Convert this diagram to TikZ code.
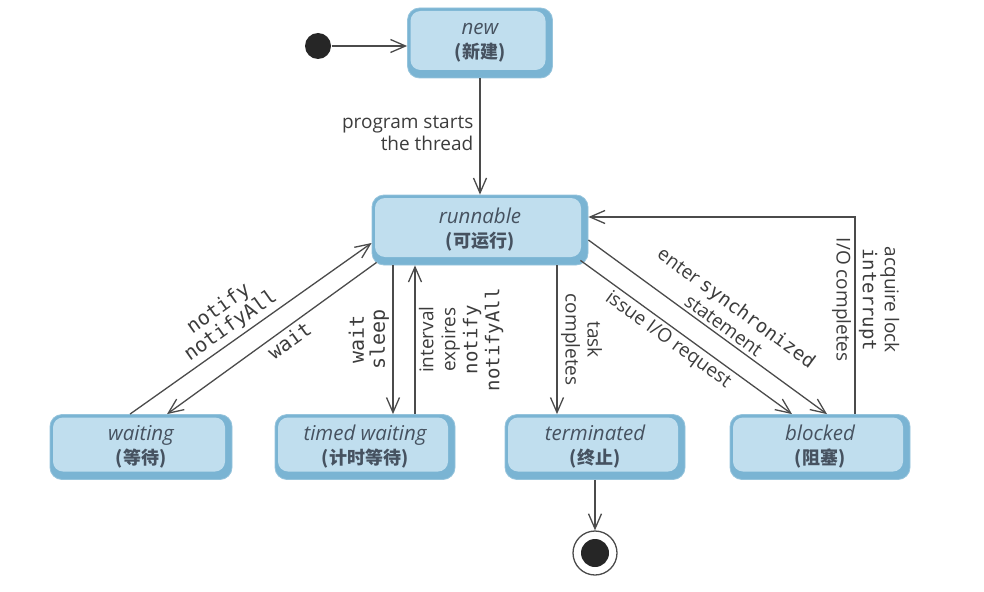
\documentclass[tikz,border=0pt]{standalone}
\usepackage{fontspec}
\setmainfont{Open Sans}
\setmonofont{DejaVu Sans Mono}
\newfontfamily\cjk{Noto Sans CJK SC}
\usetikzlibrary{arrows.meta,positioning}

\definecolor{boxdark}{RGB}{122,180,211}
\definecolor{boxlight}{RGB}{192,222,238}
\definecolor{boxline}{RGB}{150,196,220}
\definecolor{statetext}{RGB}{70,82,96}
\definecolor{labelgray}{RGB}{60,60,60}
\definecolor{linegray}{RGB}{75,75,75}

\newcommand{\statename}[2]{{\itshape #1}\\{\cjk\bfseries\fontsize{18}{21}\selectfont (#2)}}
\newcommand{\code}[1]{{\ttfamily #1}}

\begin{document}
\begin{tikzpicture}[->,>={Straight Barb[length=15pt,width=13pt]}, x=1pt, y=-1pt, line width=1.3pt, draw=linegray, auto]

    \tikzstyle{thread state}=[->, draw=boxline, line width=0.8pt, fill=boxdark, rounded corners=12pt,
      text=statetext, align=center, font=\fontsize{20.5}{24}\selectfont,
      minimum width=180pt, minimum height=65pt,
      path picture={\fill[boxlight, rounded corners=10pt]
        ([shift={(3pt,-3pt)}]path picture bounding box.north west) rectangle
        ([shift={(-7pt,8pt)}]path picture bounding box.south east);}]
    \tikzstyle{edgetext}=[text=labelgray, align=center, font=\fontsize{19}{22}\selectfont]
    \tikzstyle{codetext}=[text=labelgray, align=center, font=\ttfamily\fontsize{20}{21}\selectfont]

    \useasboundingbox (0,0) rectangle (984,591);

    \node[circle, fill=black!85, minimum size=26pt, inner sep=0pt] (start) at (318,46) {};
    \node[thread state, minimum width=145pt, minimum height=70pt] (new)      at (480,43)  {\statename{new}{新建}};
    \node[thread state, minimum width=216pt, minimum height=70pt] (runnable) at (480,230) {\statename{runnable}{可运行}};
    \node[thread state, minimum width=182pt] (waiting)    at (141,447) {\statename{waiting}{等待}};
    \node[thread state]                      (timed)      at (365,447) {\statename{timed waiting}{计时等待}};
    \node[thread state]                      (terminated) at (595,447) {\statename{terminated}{终止}};
    \node[thread state]                      (blocked)    at (820,447) {\statename{blocked}{阻塞}};
    \node[circle, draw=linegray, line width=1.3pt, minimum size=44pt, inner sep=0pt,
          path picture={\fill[black!85] (path picture bounding box.center) circle (14pt);}] (final) at (595,553) {};

    \path (start) edge (new.west |- start)
          (new) edge node[edgetext, align=right, swap, pos=0.47, inner sep=6pt] {program starts\\the thread} (runnable)
          ([xshift=-11pt]waiting.north) edge node[codetext, sloped, above, pos=0.45] {notify\\notifyAll} ([yshift=-13pt]runnable.west)
          ([xshift=5pt,yshift=3pt]runnable.south west) edge node[codetext, sloped, below, pos=0.45] {wait} ([xshift=26pt]waiting.north)
          ([xshift=-87pt]runnable.south) edge node[codetext, rotate=90, anchor=south, midway] {wait\\sleep} ([xshift=28pt]timed.north)
          ([xshift=50pt]timed.north) edge node[rotate=90, anchor=north, midway, align=center, text=labelgray, font=\fontsize{19}{22}\selectfont]
                {interval\\expires\\\code{notify}\\\code{notifyAll}} ([xshift=-65pt]runnable.south)
          ([xshift=77pt]runnable.south) edge node[edgetext, rotate=-90, anchor=south, midway] {task\\completes} ([xshift=-38pt]terminated.north)
          ([xshift=-8pt,yshift=5pt]runnable.south east) edge node[edgetext, sloped, below, pos=0.45] {issue I/O request} ([xshift=-28pt]blocked.north)
          ([yshift=-10pt]runnable.east) edge node[edgetext, sloped, above, pos=0.54] {enter \code{synchronized}\\statement} ([xshift=7pt]blocked.north)
          ([xshift=35pt]blocked.north) edge[to path={|- (\tikztotarget) \tikztonodes}]
                node[edgetext, rotate=-90, anchor=north, pos=0.29] {I/O completes}
                node[rotate=-90, anchor=south, pos=0.29, align=center, text=labelgray, font=\fontsize{19}{22}\selectfont] {acquire lock\\\code{interrupt}} ([yshift=13pt]runnable.east)
          (terminated) edge (final)
    ;
\end{tikzpicture}
\end{document}
